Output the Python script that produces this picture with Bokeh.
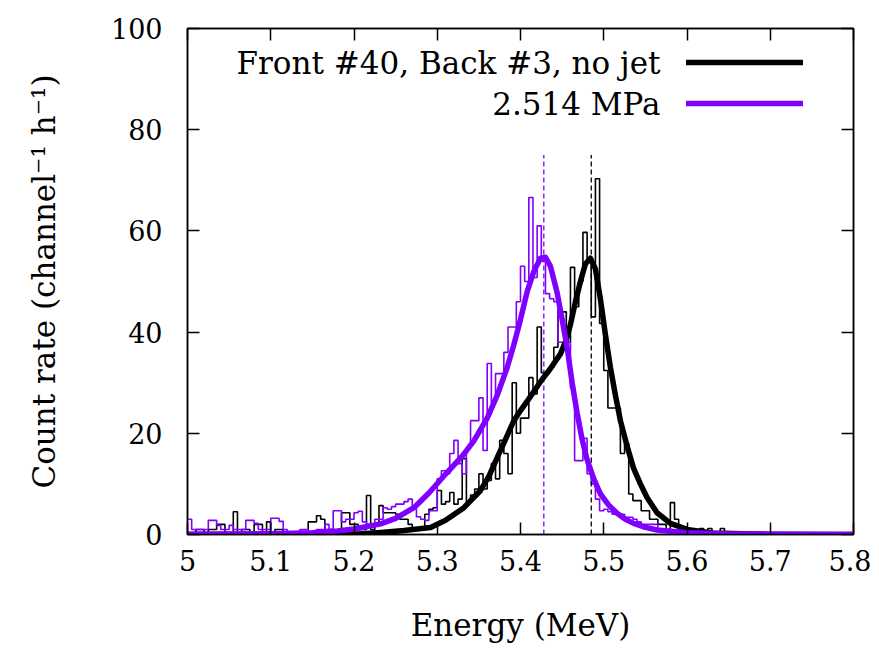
import numpy as np
from bokeh.plotting import figure
from bokeh.models import (FixedTicker, LinearAxis, Label, Legend, LegendItem,
                          Range1d, CustomJSTickFormatter)
from bokeh.embed import file_html
from bokeh.resources import INLINE

# ---------------- data ----------------
e_start = 5.0          # MeV, lower edge of first channel
bin_width = 0.005      # MeV per channel

nojet_rate = [
    0, 0, 1, 1, 0, 1, 1, 2, 2, 0,
    0, 4.5, 0, 1, 1, 0, 2, 2, 0, 2.5,
    0, 1, 1, 0, 0, 0, 0, 0, 0, 2.5,
    2.5, 3.7, 3, 1, 1, 0, 0, 4.3, 4.3, 2,
    2, 1, 1, 7.7, 1, 2, 5.7, 4.3, 4.3, 4.3,
    4, 3, 3, 2, 1, 1, 1, 4, 5, 5.3,
    8.7, 6, 6.5, 8.3, 6, 7, 15, 6.5, 7.8, 9,
    12, 9, 10.7, 14, 11, 18.6, 16, 12, 30, 20,
    23, 23, 31, 27.8, 41, 32, 32, 33, 37, 44,
    44, 38, 52.8, 45, 50, 59.7, 54, 43, 70.3, 41.7,
    32.4, 25, 25, 25, 16, 18, 8, 6.7, 6.7, 4.7,
    4.7, 3, 3, 2, 2, 1, 6.3, 3, 1, 1,
    0, 0, 0, 1.2, 0, 1.2, 0, 0, 1.2, 0,
    0, 0, 0, 0, 0, 0, 0, 0, 0, 0,
    0, 0, 0, 0, 0, 0, 0, 0, 0, 0,
    0, 0, 0, 0, 0, 0, 0, 0, 0, 0,
]

jet_rate = [
    3, 1, 1, 1, 1, 2.8, 2.8, 1.8, 1, 1,
    1.8, 1, 1, 1, 2.8, 2.8, 2.2, 1, 1, 1,
    3.2, 3.2, 2.6, 1, 0, 0, 0, 1, 1, 0,
    0, 1, 1, 2, 1, 4.7, 4.7, 2.5, 3, 3,
    4.3, 4.6, 2.5, 2, 2, 3, 3, 5.3, 5, 5.5,
    6, 6, 6.5, 7, 5, 3.5, 3, 2.8, 4.7, 4.7,
    11, 12.6, 12, 16, 18.6, 14, 12, 17, 22.5, 22.5,
    27, 16.6, 33.8, 26, 31.8, 31.8, 36, 41, 41, 46,
    53, 50, 66.6, 50.8, 61, 54, 47.6, 46.6, 46, 38,
    38, 38, 29, 14.6, 14.6, 19, 12, 10, 7, 4.7,
    5, 4.5, 4, 4, 4, 3.4, 3.4, 3, 2.5, 2,
    2, 2, 2, 1, 1, 1, 0, 0, 0, 0,
    0, 0, 0, 0, 0, 0, 0, 0, 0, 0,
    0, 0, 0, 0, 0, 0, 0, 0, 0, 0,
    0, 0, 0, 0, 0, 0, 0, 0, 0, 0,
    0, 0, 0, 0, 0, 0, 0, 0, 0, 0,
]

nojet_fit_E = [5.00, 5.10, 5.20, 5.232, 5.26, 5.292, 5.31, 5.332, 5.352, 5.362,
               5.372, 5.382, 5.392, 5.40, 5.41, 5.424, 5.436, 5.448, 5.455, 5.46,
               5.466, 5.472, 5.478, 5.484, 5.49, 5.496, 5.502, 5.508, 5.514, 5.52,
               5.528, 5.536, 5.544, 5.552, 5.564, 5.58, 5.60, 5.63, 5.70, 5.80]
nojet_fit_rate = [0, 0, 0.05, 0.4, 0.8, 1.4, 2.8, 5.3, 8.7, 11.5,
                  15.2, 18.8, 22.5, 24.5, 26.8, 30.2, 32.8, 35.7, 38.5, 41.5,
                  46, 50, 53.5, 54.6, 52.5, 46.5, 39.5, 33, 27.5, 22.5,
                  17.5, 13, 10, 7.3, 4.3, 2.2, 1.0, 0.3, 0.02, 0]

jet_fit_E = [5.00, 5.10, 5.15, 5.18, 5.20, 5.232, 5.25, 5.272, 5.29, 5.312,
             5.33, 5.344, 5.36, 5.372, 5.384, 5.392, 5.40, 5.408, 5.416, 5.424,
             5.43, 5.436, 5.444, 5.45, 5.456, 5.462, 5.468, 5.474, 5.48, 5.488,
             5.496, 5.506, 5.516, 5.526, 5.536, 5.55, 5.564, 5.60, 5.65, 5.80]
jet_fit_rate = [0.05, 0.15, 0.35, 0.7, 1.1, 2.1, 3.2, 5.3, 8.2, 12.3,
                15.5, 18.5, 23, 27.5, 33, 37.5, 42.5, 48, 52, 54.6,
                54.8, 53, 47.8, 42.5, 37, 30, 24, 18.8, 14.8, 11,
                8, 5.8, 4.2, 3.0, 2.2, 1.4, 0.9, 0.35, 0.1, 0.02]

peak_E = [5.485, 5.428]          # dashed markers: no jet, jet
peak_line_top = [75, 75]

series_labels = ["Front #40, Back #3, no jet", "2.514 MPa"]

x_ticks = [5.0, 5.1, 5.2, 5.3, 5.4, 5.5, 5.6, 5.7, 5.8]
x_tick_labels = ["5", "5.1", "5.2", "5.3", "5.4", "5.5", "5.6", "5.7", "5.8"]
y_ticks = [0, 20, 40, 60, 80, 100]

x_title = "Energy (MeV)"
y_title = "Count rate (channel\u207b\u00b9 h\u207b\u00b9)"

# ---------------- style ----------------
FONT = "DejaVu Serif"
TICK_FS = "27px"
LABEL_FS = "31px"
BLACK = "#000000"
PURPLE = "#7f00ff"

p = figure(width=871, height=650, output_backend="svg", toolbar_location=None,
           x_range=Range1d(x_ticks[0], x_ticks[-1]),
           y_range=Range1d(y_ticks[0], y_ticks[-1]),
           min_border_left=187, min_border_right=18,
           min_border_top=28, min_border_bottom=116)
p.background_fill_color = "white"
p.border_fill_color = "white"
p.outline_line_color = BLACK
p.outline_line_width = 1.5
p.xgrid.visible = False
p.ygrid.visible = False

# histograms (step outlines)
n = len(nojet_rate)
edges = e_start + bin_width * np.arange(n + 1)
p.step(edges, list(nojet_rate) + [nojet_rate[-1]], mode="after",
       line_color=BLACK, line_width=1.6)
p.step(edges, list(jet_rate) + [jet_rate[-1]], mode="after",
       line_color=PURPLE, line_width=1.6)

# dashed peak markers
p.segment(x0=peak_E, y0=[0, 0], x1=peak_E, y1=peak_line_top,
          line_color=[BLACK, PURPLE], line_width=1.3, line_dash="5 3")

# fits
r_black = p.line(nojet_fit_E, nojet_fit_rate, line_color=BLACK, line_width=5.5,
                 line_join="round", line_cap="round")
r_purple = p.line(jet_fit_E, jet_fit_rate, line_color=PURPLE, line_width=5.5,
                  line_join="round", line_cap="round")

# axes
xa = p.xaxis[0]
ya = p.yaxis[0]
xa.ticker = FixedTicker(ticks=x_ticks)
xa.major_label_overrides = dict(zip(x_ticks, x_tick_labels))
ya.ticker = FixedTicker(ticks=y_ticks)
for ax in (xa, ya):
    ax.major_tick_in = 12
    ax.major_tick_out = 0
    ax.minor_tick_line_color = None
    ax.major_tick_line_width = 1.5
    ax.axis_line_width = 1.5
    ax.major_label_text_font = FONT
    ax.major_label_text_font_size = TICK_FS
    ax.major_label_text_color = BLACK
    ax.axis_label_text_font = FONT
    ax.axis_label_text_font_size = LABEL_FS
    ax.axis_label_text_font_style = "normal"
    ax.axis_label_text_color = BLACK
xa.major_label_standoff = 15
ya.major_label_standoff = 25
xa.axis_label = x_title
ya.axis_label = y_title
xa.axis_label_standoff = 33
ya.axis_label_standoff = 46

for ticks, place in ((x_ticks, "above"), (y_ticks, "right")):
    ax = LinearAxis(ticker=FixedTicker(ticks=ticks),
                    formatter=CustomJSTickFormatter(code="return ''"),
                    major_label_text_font_size="0px", major_label_standoff=0,
                    major_tick_in=12, major_tick_out=0,
                    minor_tick_line_color=None, major_tick_line_width=1.5,
                    axis_line_width=1.5)
    p.add_layout(ax, place)

# legend: line samples on the right, text right-aligned to their left
legend = Legend(items=[LegendItem(label=" ", renderers=[r_black]),
                       LegendItem(label=" ", renderers=[r_purple])],
                location=(499, 421), glyph_width=117, glyph_height=20,
                label_width=0, label_height=20, label_standoff=0,
                label_text_font_size="1px", spacing=21, padding=0, margin=0,
                border_line_alpha=0, background_fill_alpha=0)
p.add_layout(legend)

for txt, ys in zip(series_labels, (472, 431)):
    p.add_layout(Label(x=473, y=ys, x_units="screen", y_units="screen",
                       text=txt, text_align="right", text_baseline="middle",
                       text_font=FONT, text_font_size=LABEL_FS, text_color=BLACK))

open("out.html", "w").write(file_html(p, INLINE))
